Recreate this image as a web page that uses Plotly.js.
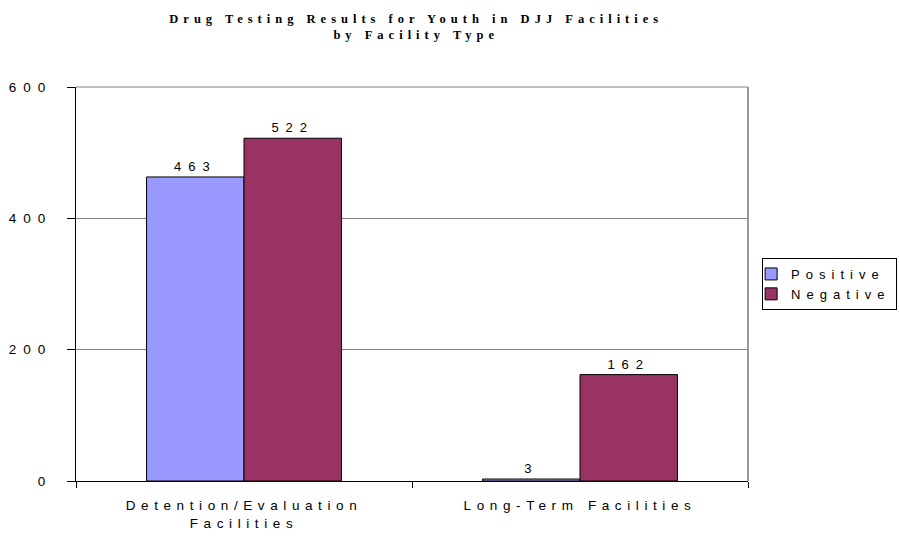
<!DOCTYPE html>
<html>
<head>
<meta charset="utf-8">
<script src="https://cdn.plot.ly/plotly-3.0.1.min.js"></script>
<style>
body { margin: 0; padding: 0; background: #fff; }
#chart { width: 899px; height: 536px; }
.gtitle { letter-spacing: 5px; }
.xtick text { letter-spacing: 5.6px; }
.ytick text { letter-spacing: 7px; }
.bartext { letter-spacing: 7px; }
.legendtext { letter-spacing: 6px; }
</style>
</head>
<body>
<div id="chart"></div>
<script>
const categories = ["Detention/Evaluation<br>Facilities", "Long-Term Facilities"];
const positiveValues = [463, 3];
const negativeValues = [522, 162];
const seriesNames = ["Positive", "Negative"];
const yTickVals = [0, 200, 400, 600];
const yTickText = ["0", "200", "400", "600"];

const common = {
  type: "bar",
  x: categories,
  textposition: "outside",
  cliponaxis: false,
  textfont: { family: "Arial, Liberation Sans, sans-serif", size: 13, color: "#000" },
  hoverinfo: "none"
};

const traces = [
  Object.assign({}, common, {
    name: seriesNames[0],
    y: positiveValues,
    text: positiveValues.map(String),
    marker: { color: "#9999FF", line: { color: "#000", width: 1 } }
  }),
  Object.assign({}, common, {
    name: seriesNames[1],
    y: negativeValues,
    text: negativeValues.map(String),
    marker: { color: "#993366", line: { color: "#000", width: 1 } }
  })
];

const layout = {
  width: 899,
  height: 536,
  paper_bgcolor: "#fff",
  plot_bgcolor: "#fff",
  margin: { l: 76, r: 151, t: 87, b: 55, autoexpand: false },
  barmode: "group",
  bargap: 0.42,
  bargroupgap: 0,
  font: { family: "Arial, Liberation Sans, sans-serif", size: 13, color: "#000" },
  title: {
    text: "<b>Drug Testing Results for Youth in DJJ Facilities<br>by Facility Type</b>",
    font: { family: "Liberation Serif, Times New Roman, serif", size: 12.5, color: "#000" },
    x: 0.463,
    xanchor: "center",
    y: 0.958,
    yanchor: "top"
  },
  xaxis: {
    type: "category",
    showline: true,
    linecolor: "#000",
    linewidth: 1,
    ticks: "outside",
    tickson: "boundaries",
    ticklen: 6,
    tickcolor: "#000",
    showgrid: false,
    tickfont: { size: 13.5 },
    ticklabelstandoff: 12
  },
  yaxis: {
    range: [0, 600],
    tickvals: yTickVals,
    ticktext: yTickText,
    showline: true,
    linecolor: "#000",
    linewidth: 1,
    ticks: "outside",
    ticklen: 8,
    tickcolor: "#000",
    showgrid: true,
    gridcolor: "#808080",
    gridwidth: 1,
    zeroline: false,
    tickfont: { size: 13.5 },
    ticklabelstandoff: 12
  },
  shapes: [
    { type: "line", xref: "paper", yref: "paper", x0: 0, x1: 1, y0: 1, y1: 1,
      line: { color: "#808080", width: 1 } },
    { type: "line", xref: "paper", yref: "paper", x0: 1, x1: 1, y0: 0, y1: 1,
      line: { color: "#999", width: 2 } }
  ],
  legend: {
    x: 1.021,
    xanchor: "left",
    y: 0.5,
    yanchor: "middle",
    bordercolor: "#000",
    borderwidth: 1,
    bgcolor: "#fff",
    font: { size: 13 },
    tracegroupgap: 0,
    itemwidth: 30,
    indentation: -12
  },
  showlegend: true
};

Plotly.newPlot("chart", traces, layout, { staticPlot: true, displayModeBar: false });
</script>
</body>
</html>
